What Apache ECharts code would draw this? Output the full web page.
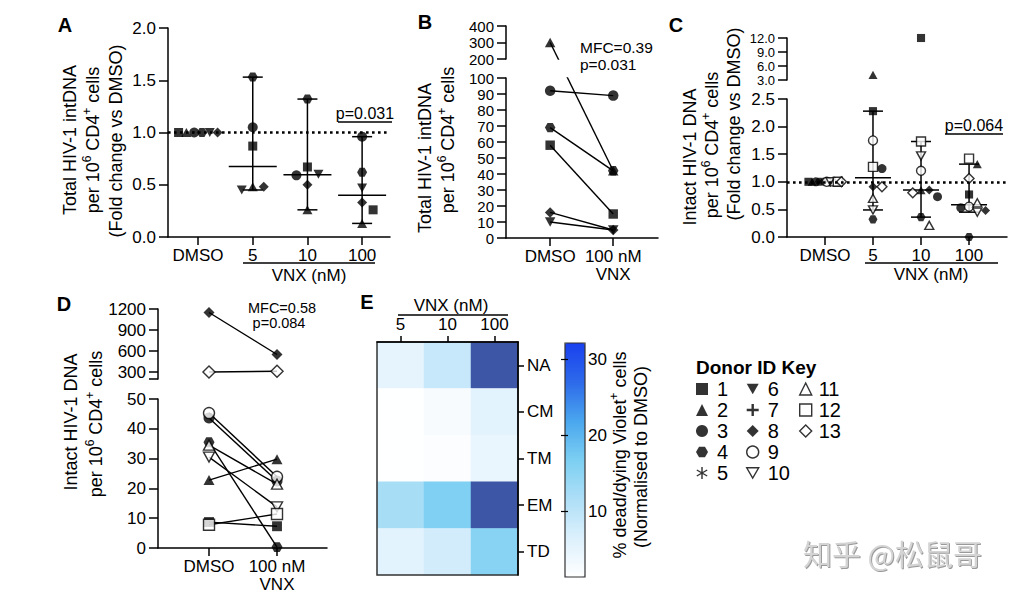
<!DOCTYPE html>
<html><head><meta charset="utf-8">
<script src="https://cdn.jsdelivr.net/npm/echarts@6/dist/echarts.min.js"></script>
<style>html,body{margin:0;padding:0;background:#fff}#c{width:1024px;height:597px}</style>
</head><body><div id="c"></div>
<script>
// ================= DATA =================
const donorIds = ['1','2','3','4','5','6','7','8','9','10','11','12','13'];
const groupLabels = ['DMSO','5','10','100'];
const pairLabels = ['DMSO','100 nM\nVNX'];

// Panel A: total HIV-1 intDNA, fold change vs DMSO
const donorsA = ['1','2','3','4','6','8'];
const foldA_DMSO = [1, 1, 1, 1, 1, 1];
const foldA_5    = [0.87, 0.48, 1.05, 1.53, 0.45, 0.48];
const foldA_10   = [0.67, 0.26, 0.59, 1.32, 0.60, 0.50];
const foldA_100  = [0.26, 0.13, 0.96, 0.62, 0.47, 0.33];

// Panel B: total HIV-1 intDNA per 10^6 CD4+ cells
const donorsB = ['1','2','3','4','6','8'];
const intB_DMSO = [58, 300, 92, 69, 10, 16];
const intB_100  = [15, 42, 89, 42, 5, 5];

// Panel C: intact HIV-1 DNA, fold change vs DMSO
const donorsC = ['1','2','3','4','8','9','10','11','12','13'];
const foldC_DMSO = [1, 1, 1, 1, 1, 1, 1, 1, 1, 1];
const foldC_5    = [2.28, 4.1, 1.24, 0.32, 0.91, 1.75, 0.49, 0.70, 1.27, 0.91];
const foldC_10   = [12.0, 0.85, 0.73, 0.36, 0.85, 1.20, 1.47, 0.21, 1.73, 0.80];
const foldC_100  = [0.77, 1.32, 0.53, 0.0, 0.48, 0.55, 0.45, 0.62, 1.42, 1.06];

// Panel D: intact HIV-1 DNA per 10^6 CD4+ cells
const donorsD = ['1','2','3','4','8','9','10','11','12','13'];
const intD_DMSO = [8.7, 22.8, 43.6, 35.5, 1150, 45.3, 30.5, 34.5, 7.8, 300];
const intD_100  = [7.3, 29.8, 22.5, 0.3, 550, 23.9, 13.8, 21.4, 11.4, 310];

// Panel E: % dead/dying Violet+ cells (normalised to DMSO)
const vnxDoses = ['5','10','100'];
const subsets = ['NA','CM','TM','EM','TD'];
const dead_NA = [5.0, 8.9, 34];
const dead_CM = [1.5, 2.6, 5.5];
const dead_TM = [1.5, 2.0, 4.6];
const dead_EM = [12.3, 16.5, 34];
const dead_TD = [5.5, 7.6, 15.6];
const colorbarTicks = [10, 20, 30];

// ================= STYLE / LAYOUT =================
const FONT = '"Liberation Sans", Arial, Helvetica, sans-serif';
const HEX = 'path://M2,0 L6,0 L8,3.46 L6,6.93 L2,6.93 L0,3.46Z';
const DTRI = 'path://M0,0 L10,0 L5,8.66Z';
const PLUS = 'path://M4,0 H6 V4 H10 V6 H6 V10 H4 V6 H0 V4 H4Z';
const AST = 'path://M-1.2,-10 L1.2,-10 L1.2,10 L-1.2,10Z M-9.26,-3.96 L-8.06,-6.04 L9.26,3.96 L8.06,6.04Z M8.06,-6.04 L9.26,-3.96 L-8.06,6.04 L-9.26,3.96Z';
const STY = {
  '1':{sym:'rect', fill:true, size:[9,9]},
  '2':{sym:'triangle', fill:true, size:[10,9]},
  '3':{sym:'circle', fill:true, size:[10,10]},
  '4':{sym:HEX, fill:true, size:[10,9]},
  '5':{sym:AST, fill:true, size:[11,11]},
  '6':{sym:DTRI, fill:true, size:[10,9]},
  '7':{sym:PLUS, fill:true, size:[11,11]},
  '8':{sym:'diamond', fill:true, size:[10,10]},
  '9':{sym:'circle', fill:false, size:[10,10]},
  '10':{sym:DTRI, fill:false, size:[10,9]},
  '11':{sym:'triangle', fill:false, size:[10,9]},
  '12':{sym:'rect', fill:false, size:[10,10]},
  '13':{sym:'diamond', fill:false, size:[11,11]}
};
function itemStyleOf(id){
  return STY[id].fill ? {color:'#000', borderWidth:0} : {color:'#fff', borderColor:'#000', borderWidth:1.4};
}
function sizeOf(id, k){ return STY[id].size.map(s=>s*k); }

const LAY = {
  A:{grid:{left:168, top:28, width:222, height:209}, xmin:-0.55, xmax:3.51},
  B:{up:{left:506, top:26, width:152, height:33}, lo:{left:506, top:78, width:152, height:160}, xmin:-0.7, xmax:1.71},
  C:{up:{left:787, top:38, width:220, height:42}, lo:{left:787, top:99, width:220, height:138}, xmin:-0.79, xmax:3.79},
  D:{up:{left:158, top:309, width:169, height:70}, lo:{left:158, top:399, width:169, height:149}, xmin:-0.75, xmax:1.735},
  E:{grid:{left:377, top:342, width:141, height:233}},
  CB:{grid:{left:565, top:343, width:20, height:234}, min:1.4, max:32.2}
};

const grids = [
  LAY.A.grid, LAY.B.up, LAY.B.lo, LAY.C.up, LAY.C.lo, LAY.D.up, LAY.D.lo,
  Object.assign({show:true, borderColor:'#333', borderWidth:1.5, backgroundColor:'transparent', z:5}, LAY.E.grid),
  Object.assign({show:true, borderColor:'#333', borderWidth:1.2, backgroundColor:'transparent', z:6}, LAY.CB.grid)
].map(g=>Object.assign({outerBoundsMode:'none', containLabel:false}, g));

const AX = {color:'#000', width:1.5};
function xValue(gi, min, max, labels){
  const vals = labels.map((_,i)=>i);
  return {gridIndex:gi, type:'value', min, max,
    axisLine:{show:true, onZero:false, lineStyle:AX},
    axisTick:{show:true, customValues:vals, length:8, lineStyle:AX},
    axisLabel:{customValues:vals, formatter:v=>labels[Math.round(v)], color:'#000', fontSize:17, fontFamily:FONT, margin:9, lineHeight:18},
    splitLine:{show:false}};
}
function xHidden(gi, min, max){ return {gridIndex:gi, type:'value', min, max, show:false}; }
function yValue(gi, min, max, interval, fmt, fs){
  const f = fmt || (v=>String(v));
  const o = {gridIndex:gi, type:'value', min, max,
    axisLine:{show:true, onZero:false, lineStyle:AX},
    axisTick:{show:true, length:9, lineStyle:AX},
    axisLabel:{color:'#000', fontSize:fs||17, fontFamily:FONT, margin:12,
      showMinLabel:true, showMaxLabel:true, hideOverlap:false, formatter:f},
    splitLine:{show:false}};
  if (interval != null) o.interval = interval;
  return o;
}
const f1 = v=>v.toFixed(1);

const xAxes = [
  xValue(0, LAY.A.xmin, LAY.A.xmax, groupLabels),
  xHidden(1, LAY.B.xmin, LAY.B.xmax),
  xValue(2, LAY.B.xmin, LAY.B.xmax, pairLabels),
  xHidden(3, LAY.C.xmin, LAY.C.xmax),
  xValue(4, LAY.C.xmin, LAY.C.xmax, groupLabels),
  xHidden(5, LAY.D.xmin, LAY.D.xmax),
  xValue(6, LAY.D.xmin, LAY.D.xmax, pairLabels),
  {gridIndex:7, type:'category', data:vnxDoses, position:'top', z:7,
    axisLine:{show:true, lineStyle:AX}, axisTick:{show:true, alignWithLabel:true, length:6, lineStyle:AX},
    axisLabel:{color:'#000', fontSize:17, fontFamily:FONT, margin:9}, splitLine:{show:false}},
  xHidden(8, 0, 1)
];
const dUp = yValue(5, 200, 1200, null, null, 17);
dUp.axisTick.customValues = [200,300,600,900,1200];
dUp.axisLabel.customValues = [300,600,900,1200];
const yAxes = [
  yValue(0, 0, 2, 0.5, f1),
  yValue(1, 200, 400, 100, null, 15),
  yValue(2, 0, 100, 10, null, 15),
  yValue(3, 3, 12, 3, f1, 13),
  yValue(4, 0, 2.5, 0.5, f1),
  dUp,
  yValue(6, 0, 50, 10),
  {gridIndex:7, type:'category', data:subsets, inverse:true, position:'right', z:7,
    axisLine:{show:true, lineStyle:AX}, axisTick:{show:true, alignWithLabel:true, length:6, lineStyle:AX},
    axisLabel:{color:'#000', fontSize:17, fontFamily:FONT, margin:9}, splitLine:{show:false}},
  {gridIndex:8, type:'value', min:LAY.CB.min, max:LAY.CB.max, position:'right', z:7,
    axisLine:{show:false}, axisTick:{show:true, inside:true, length:4, customValues:colorbarTicks, lineStyle:{color:'#000', width:1.2}},
    axisLabel:{customValues:colorbarTicks, color:'#000', fontSize:17, fontFamily:FONT, margin:3}, splitLine:{show:false}},
  {gridIndex:8, type:'value', min:LAY.CB.min, max:LAY.CB.max, position:'left', z:7,
    axisLine:{show:false}, axisTick:{show:true, inside:true, length:3, customValues:colorbarTicks, lineStyle:{color:'#000', width:1.2}},
    axisLabel:{show:false}, splitLine:{show:false}}
];

// ---------- helpers ----------
function makeSegs(L, upMin, upMax, loMin, loMax, giUp, giLo){
  return {lo:{gi:giLo, min:loMin, max:loMax, top:L.lo.top, h:L.lo.height},
          up:giUp==null?null:{gi:giUp, min:upMin, max:upMax, top:L.up.top, h:L.up.height}};
}
function segOf(S, v){ return (S.up && v > S.lo.max) ? S.up : S.lo; }
function pyOf(S, v){ const s = segOf(S, v); return s.top + s.h - (v - s.min)/(s.max - s.min)*s.h; }

function swarm(vals, pyFn, step, maxHalf){
  const n = vals.length, ys = vals.map(pyFn);
  const spread = Math.max(...ys) - Math.min(...ys);
  if (spread < 1){
    if (n === 1) return [0];
    const sp = Math.min(step, 2*maxHalf/(n-1));
    return vals.map((_,i)=>(i-(n-1)/2)*sp);
  }
  const order = vals.map((_,i)=>i).sort((a,b)=>ys[a]-ys[b]);
  const placed = [], off = new Array(n).fill(0), d = step*0.95;
  for (const i of order){
    for (let k=0;k<40;k++){
      const m = Math.ceil(k/2), o = k===0 ? 0 : (k%2 ? m*step : -m*step);
      if (placed.every(p=>Math.hypot(p[0]-o, p[1]-ys[i]) >= d)){ off[i]=o; placed.push([o, ys[i]]); break; }
    }
  }
  const mx = Math.max(...off.map(Math.abs));
  const sc = mx > maxHalf ? maxHalf/mx : 1;
  return off.map(o=>o*sc);
}
function medianCI(vals){
  const s = vals.slice().sort((a,b)=>a-b), n = s.length;
  const med = n%2 ? s[(n-1)/2] : (s[n/2-1]+s[n/2])/2;
  // 95% CI of the median from binomial order statistics
  const C = (n,k)=>{let r=1; for(let i=1;i<=k;i++) r=r*(n-k+i)/i; return r;};
  let cum = 0, r = 1;
  for (let j=0;j<n;j++){ cum += C(n,j)/Math.pow(2,n); if (cum <= 0.025) r = j+1; else break; }
  r = Math.max(1, Math.min(r, Math.floor(n/2)));
  return [med, s[r-1], s[n-r]];
}

const series = [];
// legend-only series
donorIds.forEach(id=>series.push({type:'scatter', name:id, xAxisIndex:8, yAxisIndex:8, data:[],
  symbol:STY[id].sym, symbolSize:STY[id].size, itemStyle:itemStyleOf(id)}));

function scatterPanel(donors, groups, S, L, xmin, xmax, k, step, maxHalf, capHW, medHW){
  const ppuX = L.width/(xmax - xmin);
  const offs = groups.map(vals=>swarm(vals, v=>pyOf(S, v), step, maxHalf).map(o=>o/ppuX));
  const ci = [];
  groups.forEach((vals, gi)=>{ if (gi>0){ const m = medianCI(vals); ci.push([gi, m[0], m[1], m[2]]); } });
  series.push({type:'custom', xAxisIndex:S.lo.gi, yAxisIndex:S.lo.gi, z:2, silent:true,
    encode:{x:0, y:[1,2,3]}, data:ci,
    renderItem:function(params, api){
      const x = api.value(0);
      const pm = api.coord([x, api.value(1)]), pl = api.coord([x, api.value(2)]), ph = api.coord([x, api.value(3)]);
      const st = {stroke:'#000', lineWidth:1.5};
      return {type:'group', children:[
        {type:'line', shape:{x1:pl[0], y1:pl[1], x2:ph[0], y2:ph[1]}, style:st},
        {type:'line', shape:{x1:pl[0]-capHW, y1:pl[1], x2:pl[0]+capHW, y2:pl[1]}, style:st},
        {type:'line', shape:{x1:ph[0]-capHW, y1:ph[1], x2:ph[0]+capHW, y2:ph[1]}, style:st},
        {type:'line', shape:{x1:pm[0]-medHW, y1:pm[1], x2:pm[0]+medHW, y2:pm[1]}, style:st}
      ]};
    },
    markLine:{silent:true, symbol:'none', label:{show:false}, animation:false,
      lineStyle:{color:'#000', width:2.6, type:[2.6,3.4]}, data:[{yAxis:1}]}
  });
  donors.forEach((id, di)=>{
    const segs = S.up ? [S.lo, S.up] : [S.lo];
    segs.forEach(seg=>{
      const data = [];
      groups.forEach((vals, gi)=>{ const v = vals[di]; if (segOf(S, v) === seg) data.push([gi + offs[gi][di], v]); });
      if (data.length) series.push({type:'scatter', name:'d'+id, xAxisIndex:seg.gi, yAxisIndex:seg.gi, z:3,
        symbol:STY[id].sym, symbolSize:sizeOf(id, k), itemStyle:itemStyleOf(id), data});
    });
  });
}

const crossings = [];
function pairPanel(donors, v0s, v1s, S, k){
  donors.forEach((id, di)=>{
    const v0 = v0s[di], v1 = v1s[di], s0 = segOf(S, v0), s1 = segOf(S, v1);
    const ls = {color:'#000', width:1.4};
    if (s0 === s1){
      series.push({type:'line', xAxisIndex:s0.gi, yAxisIndex:s0.gi, z:2, symbol:'none', lineStyle:ls, data:[[0,v0],[1,v1]]});
    } else {
      crossings.push({g0:s0.gi, g1:s1.gi, v0, v1});
    }
    series.push({type:'scatter', name:'d'+id, xAxisIndex:s0.gi, yAxisIndex:s0.gi, z:3,
      symbol:STY[id].sym, symbolSize:sizeOf(id, k), itemStyle:itemStyleOf(id), data:[[0, v0]]});
    series.push({type:'scatter', name:'d'+id, xAxisIndex:s1.gi, yAxisIndex:s1.gi, z:3,
      symbol:STY[id].sym, symbolSize:sizeOf(id, k), itemStyle:itemStyleOf(id), data:[[1, v1]]});
  });
}

const SA = makeSegs({lo:LAY.A.grid}, null, null, 0, 2, null, 0);
scatterPanel(donorsA, [foldA_DMSO, foldA_5, foldA_10, foldA_100], SA, LAY.A.grid, LAY.A.xmin, LAY.A.xmax, 1.0, 11, 19.5, 10, 24);
const SC = makeSegs(LAY.C, 3, 12, 0, 2.5, 3, 4);
scatterPanel(donorsC, [foldC_DMSO, foldC_5, foldC_10, foldC_100], SC, LAY.C.lo, LAY.C.xmin, LAY.C.xmax, 0.9, 9, 16.5, 10, 18);
const SB = makeSegs(LAY.B, 200, 400, 0, 100, 1, 2);
pairPanel(donorsB, intB_DMSO, intB_100, SB, 1.05);
const SD = makeSegs(LAY.D, 200, 1200, 0, 50, 5, 6);
pairPanel(donorsD, intD_DMSO, intD_100, SD, 1.1);

// heatmap
const deadRows = [dead_NA, dead_CM, dead_TM, dead_EM, dead_TD];
const heatData = [];
deadRows.forEach((row, ri)=>row.forEach((v, ci)=>heatData.push([ci, ri, v])));
const heatIdx = series.length;
series.push({type:'heatmap', xAxisIndex:7, yAxisIndex:7, data:heatData, z:2, itemStyle:{borderWidth:0}, emphasis:{disabled:true}});

// ---------- graphic text ----------
function T(x, y, text, o){
  o = o || {};
  const st = Object.assign({text, fill:'#000', fontSize:o.fs||18, fontFamily:FONT, fontWeight:o.fw||'normal',
    align:o.align||'center', verticalAlign:'middle'}, o.style||{});
  if (o.rich) st.rich = o.rich;
  const el = {type:'text', x, y, silent:true, style:st, z:10};
  if (o.rot) el.rotation = Math.PI/2;
  return el;
}
function Ln(x1, y1, x2, y2, w){
  return {type:'line', silent:true, z:10, shape:{x1, y1, x2, y2}, style:{stroke:'#000', lineWidth:w||1.5}};
}
const RICH = {n:{fontSize:18, fontFamily:FONT, lineHeight:24, fill:'#000', color:'#000'},
              s:{fontSize:12, fontFamily:FONT, lineHeight:10, verticalAlign:'top', fill:'#000', color:'#000'}};
const perLine = '{n|per 10}{s|6}{n| CD4}{s|+}{n| cells}';
const elements = [
  T(65, 25, 'A', {fs:20, fw:'bold'}), T(425, 22, 'B', {fs:20, fw:'bold'}), T(676, 25, 'C', {fs:20, fw:'bold'}),
  T(64, 304, 'D', {fs:20, fw:'bold'}), T(367, 302, 'E', {fs:20, fw:'bold'}),
  T(70, 140, 'Total HIV-1 intDNA', {rot:true}),
  T(93, 140, perLine, {rot:true, rich:RICH}),
  T(116, 141, '(Fold change vs DMSO)', {rot:true}),
  T(425, 158, 'Total HIV-1 intDNA', {rot:true}),
  T(448, 140, perLine, {rot:true, rich:RICH}),
  T(690, 157, 'Intact HIV-1 DNA', {rot:true}),
  T(712, 145, perLine, {rot:true, rich:RICH}),
  T(734, 124, '(Fold change vs DMSO)', {rot:true}),
  T(71, 422, 'Intact HIV-1 DNA', {rot:true}),
  T(96, 424, perLine, {rot:true, rich:RICH}),
  T(620, 455, '{n|% dead/dying Violet}{s|+}{n| cells}', {rot:true, rich:RICH}),
  T(641, 457, '(Normalised to DMSO)', {rot:true}),
  T(365, 113, 'p=0.031', {fs:16}), Ln(338, 122, 392, 122),
  T(580, 47, 'MFC=0.39', {fs:15.5, align:'left'}),
  T(580, 64, 'p=0.031', {fs:15.5, align:'left'}),
  T(974, 125, 'p=0.064', {fs:16}), Ln(945, 134, 1003, 134),
  T(282, 308, 'MFC=0.58', {fs:14.5}), T(279, 323, 'p=0.084', {fs:14.5}),
  Ln(243, 263, 375, 263), T(309, 275, 'VNX (nM)', {fs:17}),
  Ln(865, 263, 998, 263), T(931, 274, 'VNX (nM)', {fs:17}),
  T(451, 305, 'VNX (nM)', {fs:17}), Ln(398, 315, 508, 315),
  T(803, 553, '知乎 @松鼠哥', {fs:29, align:'left', style:{fontFamily:'"Noto Sans CJK SC", sans-serif', fill:'#d4d4d4',
    textShadowColor:'#9a9a9a', textShadowOffsetX:1, textShadowOffsetY:1, textShadowBlur:1}})
];

// ---------- legend ----------
function legItem(id){ return {name:id, icon:STY[id].sym, itemStyle:itemStyleOf(id)}; }
function legend(left, ids, pad){
  return {left, top:379, orient:'vertical', itemWidth:12, itemHeight:12, itemGap:1, selectedMode:false,
    data:ids.map(legItem), padding:0,
    textStyle:{fontSize:20, fontFamily:FONT, color:'#000', padding:[0,0,0,pad]}};
}

const option = {
  animation:false,
  backgroundColor:'#fff',
  textStyle:{fontFamily:FONT},
  title:[{text:'Donor ID Key', left:696, top:358, padding:0,
    textStyle:{fontSize:19, fontWeight:'bold', fontFamily:FONT, color:'#000'}}],
  legend:[legend(696, ['1','2','3','4','5'], 4), legend(746, ['6','7','8','9','10'], 4), legend(799, ['11','12','13'], 2)],
  grid:grids, xAxis:xAxes, yAxis:yAxes,
  visualMap:[{type:'continuous', seriesIndex:heatIdx, min:LAY.CB.min, max:LAY.CB.max,
    range:[LAY.CB.min, LAY.CB.max - 0.01],
    orient:'vertical', left:LAY.CB.grid.left, top:LAY.CB.grid.top, itemWidth:LAY.CB.grid.width, itemHeight:LAY.CB.grid.height,
    padding:0, text:null, calculable:false, hoverLink:false, showLabel:false,
    inRange:{color:['#ffffff','#dcf0fc','#aedff7','#7ccff2','#4aa6ee','#2d6aea','#1a40ef']},
    outOfRange:{color:'#3d57a6'}}],
  graphic:{elements},
  series
};

const chart = echarts.init(document.getElementById('c'), null, {renderer:'svg', width:1024, height:597});
chart.setOption(option);

// line pieces crossing a broken axis, computed through the axes' own scales
crossings.forEach(c=>{
  const f0 = {xAxisIndex:c.g0, yAxisIndex:c.g0}, f1 = {xAxisIndex:c.g1, yAxisIndex:c.g1};
  const p0 = chart.convertToPixel(f0, [0, c.v0]);
  const p1 = chart.convertToPixel(f1, [1, c.v1]);
  const farIn0 = chart.convertFromPixel(f0, p1);
  const farIn1 = chart.convertFromPixel(f1, p0);
  const ls = {color:'#000', width:1.4};
  series.push({type:'line', xAxisIndex:c.g0, yAxisIndex:c.g0, z:2, symbol:'none', clip:true, lineStyle:ls, data:[[0, c.v0], farIn0]});
  series.push({type:'line', xAxisIndex:c.g1, yAxisIndex:c.g1, z:2, symbol:'none', clip:true, lineStyle:ls, data:[farIn1, [1, c.v1]]});
});
chart.setOption({series});
</script>
</body></html>
